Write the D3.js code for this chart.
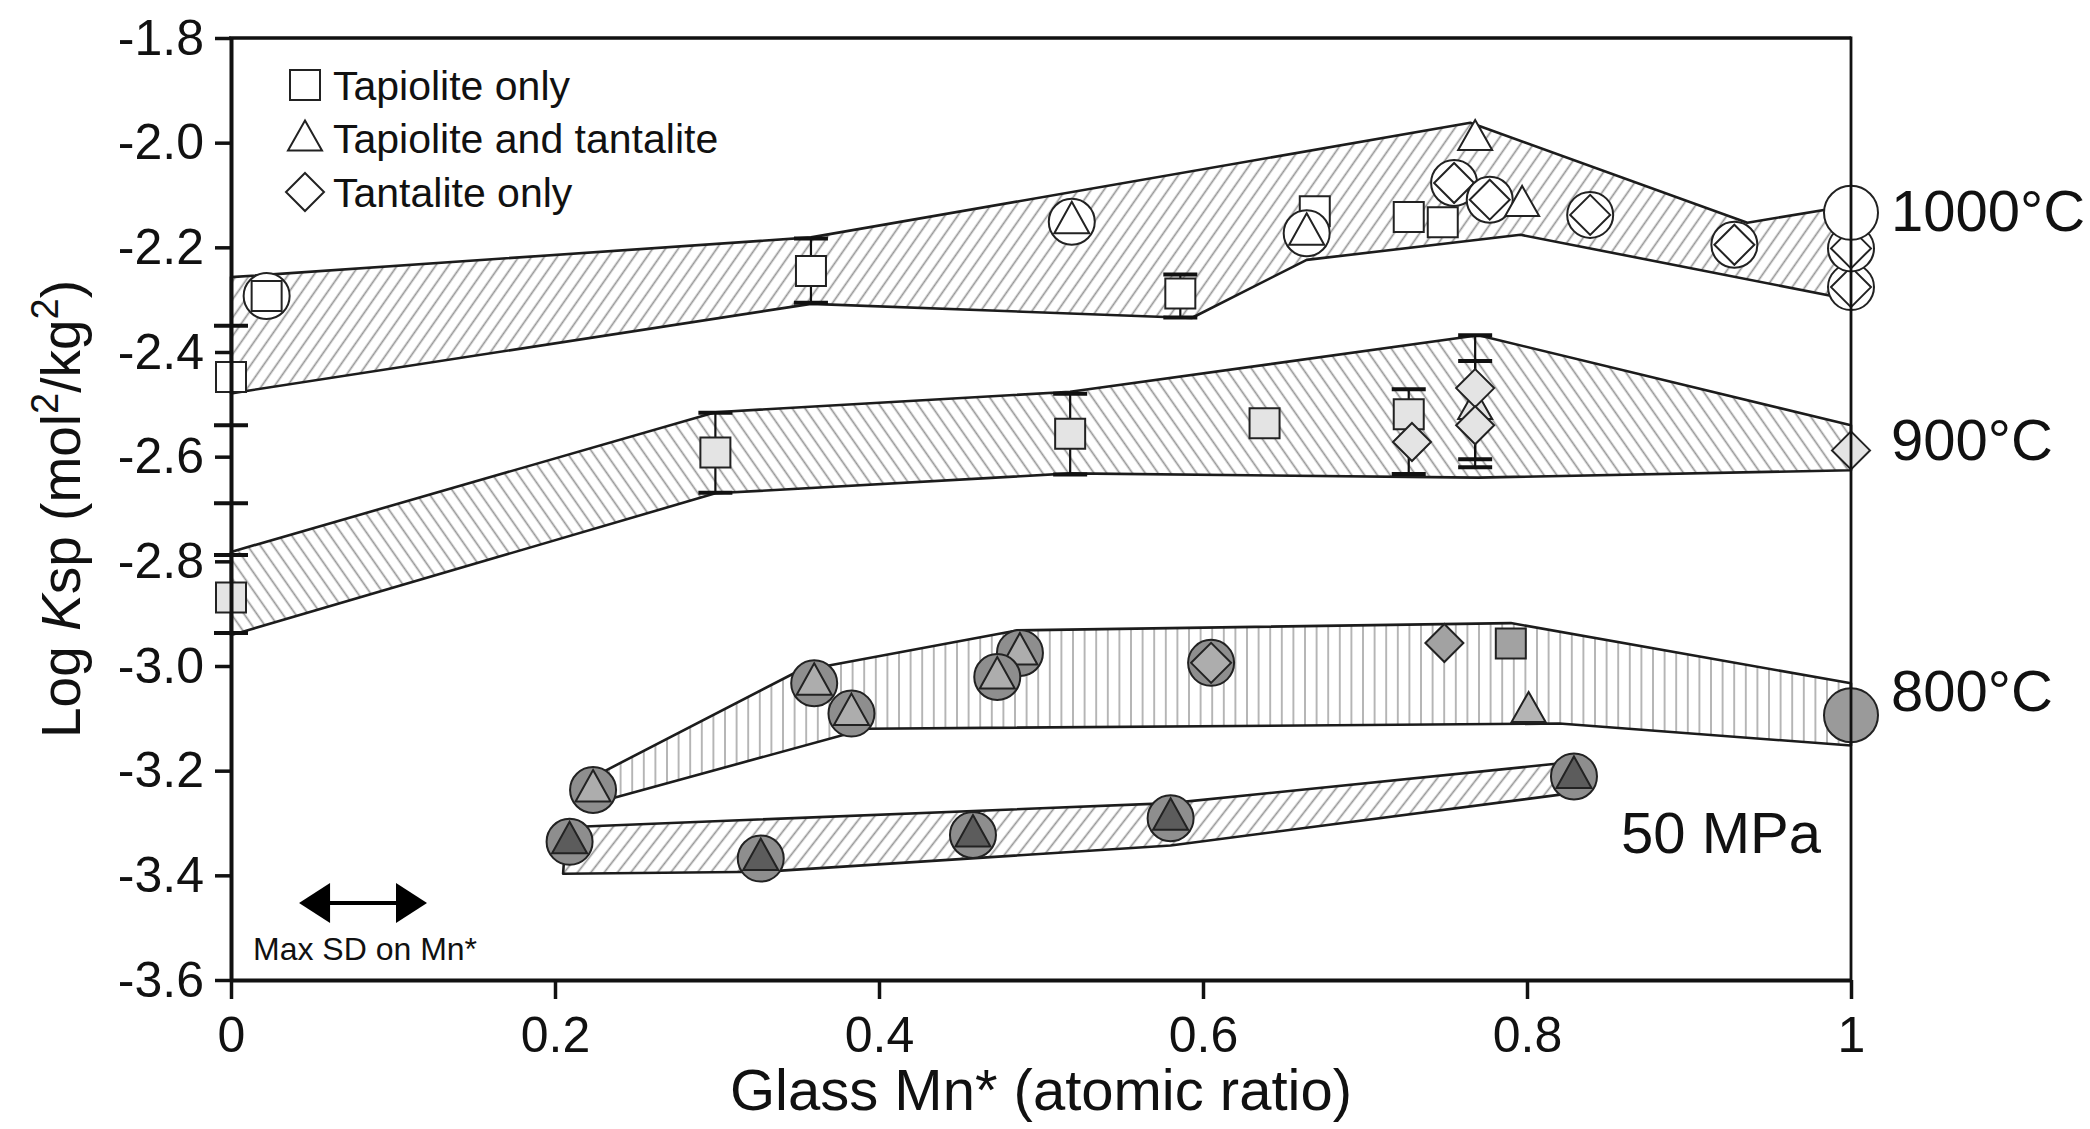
<!DOCTYPE html>
<html>
<head>
<meta charset="utf-8">
<script src="https://cdn.jsdelivr.net/npm/d3@7"></script>
<style>
  body { margin: 0; background: #fff; }
  svg { display: block; }
  text { font-family: "Liberation Sans", Arial, Helvetica, sans-serif; fill: #111; }
</style>
</head>
<body>
<svg id="chart" width="2090" height="1129"></svg>
<script>
// ---- axis ticks ----
const xTicks = [0, 0.2, 0.4, 0.6, 0.8, 1];
const xTickLabels = ["0", "0.2", "0.4", "0.6", "0.8", "1"];
const yTicks = [-1.8, -2.0, -2.2, -2.4, -2.6, -2.8, -3.0, -3.2, -3.4, -3.6];

// ---- legend ----
const legendShapes = ["square", "triangle", "diamond"];
const legendLabels = ["Tapiolite only", "Tapiolite and tantalite", "Tantalite only"];

// ---- field labels ----
const seriesLabels = ["1000°C", "900°C", "800°C", "50 MPa"];

// ---- envelope boundaries [Mn*, log Ksp] ----
const band1000Upper = [[0, -2.257], [0.358, -2.181], [0.765, -1.962], [0.936, -2.153], [1, -2.12]];
const band1000Lower = [[0, -2.479], [0.358, -2.308], [0.593, -2.335], [0.664, -2.224], [0.796, -2.176], [1, -2.30]];
const band900Upper  = [[0, -2.782], [0.299, -2.515], [0.518, -2.476], [0.77, -2.368], [1, -2.54]];
const band900Lower  = [[0, -2.941], [0.299, -2.670], [0.518, -2.632], [0.77, -2.640], [1, -2.626]];
const band800Upper  = [[0.228, -3.205], [0.35, -3.010], [0.485, -2.932], [0.79, -2.918], [1, -3.033]];
const band800Lower  = [[0.236, -3.252], [0.392, -3.120], [0.82, -3.110], [1, -3.152]];
const band50Upper   = [[0.207, -3.308], [0.58, -3.262], [0.83, -3.183]];
const band50Lower   = [[0.205, -3.397], [0.33, -3.393], [0.58, -3.343], [0.83, -3.242]];

// ---- experiments: Mn*, log Ksp, phase shape, ring = circled ----
const points1000 = [
  {x: 0,     y: -2.448, shape: "square"},
  {x: 0.022, y: -2.293, shape: "square", ring: true},
  {x: 0.358, y: -2.245, shape: "square"},
  {x: 0.519, y: -2.151, shape: "triangle", ring: true},
  {x: 0.586, y: -2.288, shape: "square"},
  {x: 0.669, y: -2.131, shape: "square"},
  {x: 0.664, y: -2.173, shape: "triangle", ring: true},
  {x: 0.727, y: -2.142, shape: "square"},
  {x: 0.748, y: -2.152, shape: "square"},
  {x: 0.755, y: -2.077, shape: "diamond", ring: true},
  {x: 0.768, y: -1.991, shape: "triangle"},
  {x: 0.777, y: -2.109, shape: "diamond", ring: true},
  {x: 0.797, y: -2.117, shape: "triangle"},
  {x: 0.839, y: -2.138, shape: "diamond", ring: true},
  {x: 0.928, y: -2.195, shape: "diamond", ring: true},
  {x: 1,     y: -2.276, shape: "diamond", ring: true},
  {x: 1,     y: -2.202, shape: "diamond", ring: true},
  {x: 1,     y: -2.134, shape: "bigcircle"}
];
const points900 = [
  {x: 0,     y: -2.869, shape: "square"},
  {x: 0.299, y: -2.592, shape: "square"},
  {x: 0.518, y: -2.556, shape: "square"},
  {x: 0.638, y: -2.536, shape: "square"},
  {x: 0.727, y: -2.519, shape: "square"},
  {x: 0.729, y: -2.572, shape: "diamond"},
  {x: 0.768, y: -2.505, shape: "triangle"},
  {x: 0.768, y: -2.469, shape: "diamond"},
  {x: 0.768, y: -2.540, shape: "diamond"},
  {x: 1,     y: -2.588, shape: "diamond"}
];
const points800 = [
  {x: 0.2235, y: -3.237, shape: "triangle", ring: true},
  {x: 0.360,  y: -3.033, shape: "triangle", ring: true},
  {x: 0.383,  y: -3.091, shape: "triangle", ring: true},
  {x: 0.487,  y: -2.975, shape: "triangle", ring: true},
  {x: 0.473,  y: -3.021, shape: "triangle", ring: true},
  {x: 0.605,  y: -2.994, shape: "diamond", ring: true},
  {x: 0.749,  y: -2.956, shape: "diamond"},
  {x: 0.790,  y: -2.957, shape: "square"},
  {x: 0.801,  y: -3.084, shape: "triangle"},
  {x: 1,      y: -3.094, shape: "bigcircle"}
];
const points50 = [
  {x: 0.209, y: -3.336, shape: "triangle", ring: true},
  {x: 0.327, y: -3.368, shape: "triangle", ring: true},
  {x: 0.458, y: -3.323, shape: "triangle", ring: true},
  {x: 0.580, y: -3.291, shape: "triangle", ring: true},
  {x: 0.829, y: -3.211, shape: "triangle", ring: true}
];

// ---- standard deviations on log Ksp ----
const errorBars = [
  {x: 0,     lo: -2.540, hi: -2.350},
  {x: 0.358, lo: -2.306, hi: -2.183},
  {x: 0.586, lo: -2.334, hi: -2.252},
  {x: 0,     lo: -2.937, hi: -2.788},
  {x: 0,     lo: -2.788, hi: -2.689},
  {x: 0.299, lo: -2.669, hi: -2.516},
  {x: 0.518, lo: -2.634, hi: -2.480},
  {x: 0.727, lo: -2.633, hi: -2.471},
  {x: 0.768, lo: -2.605, hi: -2.368},
  {x: 0.768, lo: -2.620, hi: -2.417}
];

// maximum standard deviation on glass Mn*
const mnSD = {from: 0.042, to: 0.121, at: -3.453};

// ---------------------------------------------------------------
const svg = d3.select("#chart");
const x = d3.scaleLinear().domain([0, 1]).range([231, 1851]);
const y = d3.scaleLinear().domain([-3.6, -1.8]).range([980, 38]);

const defs = svg.append("defs");
function hatch(id, angle, color, spacing, width) {
  const p = defs.append("pattern")
    .attr("id", id)
    .attr("patternUnits", "userSpaceOnUse")
    .attr("width", spacing).attr("height", spacing)
    .attr("patternTransform", `rotate(${angle})`);
  p.append("line")
    .attr("x1", spacing / 2).attr("y1", -1)
    .attr("x2", spacing / 2).attr("y2", spacing + 1)
    .attr("stroke", color).attr("stroke-width", width);
}
hatch("h1000", 35, "#969696", 10.5, 1.7);
hatch("h900", -35, "#969696", 10.5, 1.7);
hatch("h800", 0, "#b4b4b4", 11.6, 1.9);
hatch("h50", 38, "#969696", 10.5, 1.7);

// ---- envelopes ----
const line = d3.line().x(d => x(d[0])).y(d => y(d[1]));
const bands = [
  {up: band1000Upper, lo: band1000Lower, fill: "url(#h1000)"},
  {up: band900Upper, lo: band900Lower, fill: "url(#h900)"},
  {up: band800Upper, lo: band800Lower, fill: "url(#h800)"},
  {up: band50Upper, lo: band50Lower, fill: "url(#h50)"}
];
svg.append("g").selectAll("path").data(bands).join("path")
  .attr("d", b => line(b.up.concat(b.lo.slice().reverse())) + "Z")
  .attr("fill", b => b.fill)
  .attr("stroke", "#1c1c1c")
  .attr("stroke-width", 2.6)
  .attr("stroke-linejoin", "round");

// ---- error bars ----
const eb = svg.append("g").attr("stroke", "#111");
eb.selectAll("line.v").data(errorBars).join("line").attr("class", "v")
  .attr("x1", d => x(d.x)).attr("x2", d => x(d.x))
  .attr("y1", d => y(d.lo)).attr("y2", d => y(d.hi))
  .attr("stroke-width", 2.2);
eb.selectAll("line.lo").data(errorBars).join("line").attr("class", "lo")
  .attr("x1", d => x(d.x) - 17).attr("x2", d => x(d.x) + 17)
  .attr("y1", d => y(d.lo)).attr("y2", d => y(d.lo))
  .attr("stroke-width", 4);
eb.selectAll("line.hi").data(errorBars).join("line").attr("class", "hi")
  .attr("x1", d => x(d.x) - 17).attr("x2", d => x(d.x) + 17)
  .attr("y1", d => y(d.hi)).attr("y2", d => y(d.hi))
  .attr("stroke-width", 4);

// ---- marker symbols ----
const RING = 23, BIG = 27;
function shapePath(shape, inRing) {
  if (shape === "square") return "M-15,-15H15V15H-15Z";
  if (shape === "triangle") return inRing ? "M0,-20L17.5,11.5H-17.5Z" : "M0,-18L17,12H-17Z";
  if (shape === "diamond") return inRing ? "M0,-20L20,0L0,20L-20,0Z" : "M0,-19L19,0L0,19L-19,0Z";
  return "";
}
function drawSeries(points, style) {
  const g = svg.append("g");
  points.forEach(d => {
    const m = g.append("g").attr("transform", `translate(${x(d.x)},${y(d.y)})`);
    if (d.shape === "bigcircle") {
      m.append("circle").attr("r", BIG).attr("fill", style.big)
        .attr("stroke", "#222").attr("stroke-width", 2);
      return;
    }
    if (d.ring) {
      m.append("circle").attr("r", RING).attr("fill", style.ring)
        .attr("stroke", "#222").attr("stroke-width", 2);
    }
    m.append("path").attr("d", shapePath(d.shape, d.ring))
      .attr("fill", d.ring ? style.inner : (d.shape === "triangle" ? style.tri : style.fill))
      .attr("stroke", "#222").attr("stroke-width", 2)
      .attr("stroke-linejoin", "miter");
  });
}
drawSeries(points1000, {fill: "#fff", ring: "#fff", inner: "#fff", tri: "#fff", big: "#fff"});
drawSeries(points900, {fill: "#e4e4e4", ring: "#e4e4e4", inner: "#e4e4e4", tri: "#e4e4e4", big: "#e4e4e4"});
drawSeries(points800, {fill: "#a2a2a2", ring: "#8e8e8e", inner: "#adadad", tri: "#b4b4b4", big: "#9a9a9a"});
drawSeries(points50, {fill: "#8e8e8e", ring: "#8e8e8e", inner: "#5c5c5c", tri: "#5c5c5c", big: "#8e8e8e"});

// ---- axes ----
const yAxis = svg.append("g").attr("transform", `translate(${x(0)},0)`)
  .call(d3.axisLeft(y).tickValues(yTicks).tickFormat(d => d.toFixed(1))
    .tickSize(16).tickSizeOuter(0).tickPadding(11));
const xAxis = svg.append("g").attr("transform", `translate(0,${y(-3.6)})`)
  .call(d3.axisBottom(x).tickValues(xTicks).tickFormat((d, i) => xTickLabels[i])
    .tickSize(19).tickSizeOuter(0).tickPadding(17));
[yAxis, xAxis].forEach(a => {
  a.select(".domain").attr("stroke", "#111").attr("stroke-width", 4);
  a.selectAll(".tick line").attr("stroke", "#111").attr("stroke-width", 3.5);
  a.selectAll(".tick text").attr("font-size", 50).attr("fill", "#111")
    .attr("font-family", "'Liberation Sans', Arial, sans-serif");
});
// frame top and right
svg.append("line").attr("x1", x(0) - 2).attr("x2", x(1))
  .attr("y1", y(-1.8)).attr("y2", y(-1.8)).attr("stroke", "#111").attr("stroke-width", 3.5);
svg.append("line").attr("x1", x(1)).attr("x2", x(1))
  .attr("y1", y(-1.8) - 1.5).attr("y2", y(-3.6)).attr("stroke", "#111").attr("stroke-width", 2.8);

// ---- axis titles ----
svg.append("text")
  .attr("x", (x(0) + x(1)) / 2).attr("y", 1110)
  .attr("text-anchor", "middle").attr("font-size", 58)
  .text("Glass Mn* (atomic ratio)");
const yt = svg.append("text")
  .attr("transform", `translate(80,${y(-2.7)}) rotate(-90)`)
  .attr("text-anchor", "middle").attr("font-size", 55);
yt.append("tspan").text("Log ");
yt.append("tspan").attr("font-style", "italic").text("K");
yt.append("tspan").text("sp (mol");
yt.append("tspan").attr("font-size", 38).attr("dy", -22).text("2");
yt.append("tspan").attr("dy", 22).text("/kg");
yt.append("tspan").attr("font-size", 38).attr("dy", -22).text("2");
yt.append("tspan").attr("dy", 22).text(")");

// ---- legend ----
const lg = svg.append("g");
legendLabels.forEach((lab, i) => {
  const cy = 85 + i * 53.5;
  lg.append("path").attr("transform", `translate(305,${cy})`)
    .attr("d", shapePath(legendShapes[i], false))
    .attr("fill", "#fff").attr("stroke", "#222").attr("stroke-width", 2);
  lg.append("text").attr("x", 333).attr("y", cy + 14.5)
    .attr("font-size", 41).text(lab);
});

// ---- field labels ----
svg.append("text").attr("x", x(1) + 40).attr("y", y(-2.13) + 20).attr("font-size", 58).text(seriesLabels[0]);
svg.append("text").attr("x", x(1) + 40).attr("y", y(-2.568) + 20).attr("font-size", 58).text(seriesLabels[1]);
svg.append("text").attr("x", x(1) + 40).attr("y", y(-3.047) + 20).attr("font-size", 58).text(seriesLabels[2]);
svg.append("text").attr("x", 1821).attr("y", y(-3.319) + 20).attr("font-size", 58)
  .attr("text-anchor", "end").text(seriesLabels[3]);

// ---- Mn* uncertainty arrow ----
const ay = y(mnSD.at), ax0 = x(mnSD.from), ax1 = x(mnSD.to);
svg.append("line").attr("x1", ax0 + 20).attr("x2", ax1 - 20).attr("y1", ay).attr("y2", ay)
  .attr("stroke", "#000").attr("stroke-width", 4);
svg.append("path").attr("d", `M${ax0},${ay}L${ax0 + 31},${ay - 20}V${ay + 20}Z`).attr("fill", "#000");
svg.append("path").attr("d", `M${ax1},${ay}L${ax1 - 31},${ay - 20}V${ay + 20}Z`).attr("fill", "#000");
svg.append("text").attr("x", (ax0 + ax1) / 2 + 2).attr("y", 960)
  .attr("text-anchor", "middle").attr("font-size", 32)
  .attr("font-family", "'Liberation Sans Narrow', 'Liberation Sans', Arial, sans-serif")
  .text("Max SD on Mn*");
</script>
</body>
</html>
